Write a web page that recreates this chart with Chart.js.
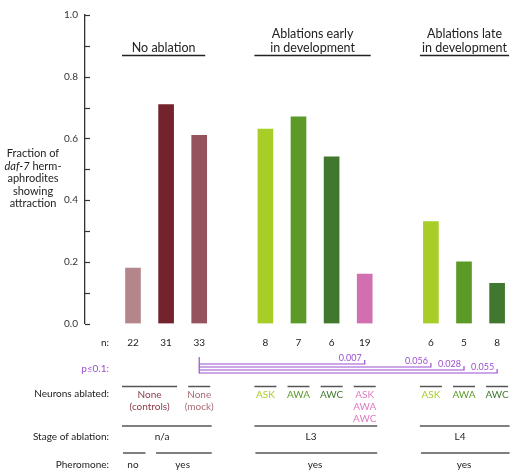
<!DOCTYPE html>
<html>
<head>
<meta charset="utf-8">
<script src="https://cdn.jsdelivr.net/npm/chart.js@4/dist/chart.umd.min.js"></script>
<style>
  body { margin: 0; background: #fff; }
</style>
</head>
<body>
<canvas id="ablationChart" width="512" height="470"></canvas>
<script>
// Data
const groupTitles = [["No ablation"], ["Ablations early", "in development"], ["Ablations late", "in development"]];
const barGroup = [0, 0, 0, 1, 1, 1, 1, 2, 2, 2];
const attraction = [0.18, 0.71, 0.61, 0.63, 0.67, 0.54, 0.16, 0.33, 0.2, 0.13];
const nWorms = [22, 31, 33, 8, 7, 6, 19, 6, 5, 8];

// p values: bar 2 (mock) compared against these bars
const pRefBar = 2;
const pBars = [6, 7, 8, 9];
const pLabels = ["0.007", "0.056", "0.028", "0.055"];

// table rows: [first bar, last bar, text lines]
const neuronRows = [
  [0, 1, ["None", "(controls)"]],
  [2, 2, ["None", "(mock)"]],
  [3, 3, ["ASK"]],
  [4, 4, ["AWA"]],
  [5, 5, ["AWC"]],
  [6, 6, ["ASK", "AWA", "AWC"]],
  [7, 7, ["ASK"]],
  [8, 8, ["AWA"]],
  [9, 9, ["AWC"]],
];
const stageRows = [[0, 2, "n/a"], [3, 6, "L3"], [7, 9, "L4"]];
const pheromoneRows = [[0, 0, "no"], [1, 2, "yes"], [3, 6, "yes"], [7, 9, "yes"]];

// Styles
const barColors = ["#b4868b", "#74232d", "#93545d", "#a8cd27", "#5b9a27", "#40782f", "#d16fb0", "#a8cd27", "#5b9a27", "#40782f"];
const neuronColors = ["#8c3a48", "#a86a72", "#a8cd27", "#5b9a27", "#40782f", "#e07ac0", "#a8cd27", "#5b9a27", "#40782f"];
const purple = "#9b4fd0";
const FONT = "Lato, 'Open Sans', sans-serif";

// one empty slot between groups
const slotOf = barGroup.map((g, i) => i + g);

const tablePlugin = {
  id: "tablePlugin",
  afterDraw(chart) {
    const ctx = chart.ctx;
    const xs = chart.scales.x;
    const ys = chart.scales.y;
    const cx = (i) => xs.getPixelForValue(slotOf[i]);

    ctx.save();
    // y ticks on the right side of the axis
    ctx.strokeStyle = "#333";
    ctx.lineWidth = 1.2;
    for (let v = 0; v <= 10; v++) {
      const y = Math.round(ys.getPixelForValue(v / 10)) + 0.5;
      ctx.beginPath();
      ctx.moveTo(ys.right, y);
      ctx.lineTo(ys.right + 5, y);
      ctx.stroke();
    }

    // y axis title
    ctx.fillStyle = "#222";
    ctx.textAlign = "center";
    ctx.textBaseline = "middle";
    ctx.font = "11px " + FONT;
    ctx.fillText("Fraction of", 33, 153);
    ctx.font = "italic 11px " + FONT;
    const w1 = ctx.measureText("daf-7").width;
    ctx.font = "11px " + FONT;
    const w2 = ctx.measureText(" herm-").width;
    const sx = 33 - (w1 + w2) / 2;
    ctx.textAlign = "left";
    ctx.font = "italic 11px " + FONT;
    ctx.fillText("daf-7", sx, 166);
    ctx.font = "11px " + FONT;
    ctx.fillText(" herm-", sx + w1, 166);
    ctx.textAlign = "center";
    ctx.fillText("aphrodites", 33, 178.5);
    ctx.fillText("showing", 33, 191);
    ctx.fillText("attraction", 33, 203);

    // group titles
    ctx.font = "12.5px " + FONT;
    ctx.strokeStyle = "#222";
    ctx.lineWidth = 1.3;
    groupTitles.forEach((lines, g) => {
      const idx = barGroup.map((b, i) => (b === g ? i : -1)).filter((i) => i >= 0);
      const x0 = cx(idx[0]) - 11;
      const x1 = cx(idx[idx.length - 1]) + (g === 2 ? 12 : 6);
      const mid = (x0 + x1) / 2;
      lines.forEach((t, k) => {
        ctx.fillText(t, mid, 48 - (lines.length - 1 - k) * 14);
      });
      ctx.beginPath();
      ctx.moveTo(x0, 55.5);
      ctx.lineTo(x1, 55.5);
      ctx.stroke();
    });

    // row labels
    ctx.font = "10px " + FONT;
    ctx.textAlign = "right";
    ctx.fillStyle = "#222";
    ctx.fillText("n:", 109, 343);
    ctx.fillText("Neurons ablated:", 109, 394);
    ctx.fillText("Stage of ablation:", 109, 437);
    ctx.fillText("Pheromone:", 109, 465);
    ctx.fillStyle = purple;
    ctx.fillText("p\u22640.1:", 109, 369);

    // n row
    ctx.fillStyle = "#222";
    ctx.textAlign = "center";
    nWorms.forEach((n, i) => ctx.fillText(String(n), cx(i), 343));

    // p brackets
    ctx.strokeStyle = purple;
    ctx.fillStyle = purple;
    ctx.lineWidth = 1.2;
    const xr = cx(pRefBar);
    ctx.beginPath();
    ctx.moveTo(xr, 357);
    ctx.lineTo(xr, 373.5);
    ctx.stroke();
    ctx.font = "9px " + FONT;
    ctx.textAlign = "right";
    pBars.forEach((b, k) => {
      const y = 364 + k * 3;
      const xe = cx(b);
      ctx.beginPath();
      ctx.moveTo(xr, y);
      ctx.lineTo(xe, y);
      ctx.lineTo(xe, y - 4);
      ctx.stroke();
      ctx.fillText(pLabels[k], xe - 3, y - 6);
    });

    // span rows
    const spanLine = (a, b, y, padL, padR) => {
      ctx.strokeStyle = "#555";
      ctx.lineWidth = 1.5;
      ctx.beginPath();
      ctx.moveTo(cx(a) - padL, y);
      ctx.lineTo(cx(b) + padR, y);
      ctx.stroke();
    };
    ctx.font = "10px " + FONT;
    ctx.textAlign = "center";
    neuronRows.forEach(([a, b, lines], k) => {
      spanLine(a, b, 386.5, 11, 11);
      ctx.fillStyle = neuronColors[k];
      const mid = (cx(a) + cx(b)) / 2;
      lines.forEach((t, j) => ctx.fillText(t, mid, 394.5 + j * 12.3));
    });
    ctx.fillStyle = "#222";
    stageRows.forEach(([a, b, t]) => {
      spanLine(a, b, 426, 11, 12.5);
      ctx.fillText(t, (cx(a) + cx(b)) / 2 - 4, 437);
    });
    pheromoneRows.forEach(([a, b, t]) => {
      spanLine(a, b, 453, 10, 12.5);
      ctx.fillText(t, (cx(a) + cx(b)) / 2, 465);
    });
    ctx.restore();
  },
};

// Create chart
const ctx = document.getElementById("ablationChart").getContext("2d");
new Chart(ctx, {
  type: "bar",
  data: {
    datasets: [
      {
        data: attraction.map((v, i) => ({ x: slotOf[i], y: v })),
        backgroundColor: barColors,
        barThickness: 15,
      },
    ],
  },
  options: {
    responsive: false,
    animation: false,
    layout: { padding: { top: 15, bottom: 146.5, left: 0, right: 0 } },
    plugins: { legend: { display: false }, tooltip: { enabled: false } },
    scales: {
      x: {
        type: "linear",
        display: false,
        offset: false,
        min: -1.45,
        max: 11.45,
      },
      y: {
        min: 0,
        max: 1,
        afterFit: (s) => { s.width = 85; },
        grid: { display: false, drawTicks: false },
        border: { display: true, color: "#333", width: 1.3 },
        ticks: {
          stepSize: 0.1,
          padding: 7,
          color: "#333",
          font: { family: FONT, size: 10 },
          callback: (v) => (Math.round(v * 10) % 2 === 0 ? v.toFixed(1) : ""),
        },
      },
    },
  },
  plugins: [tablePlugin],
});
</script>
</body>
</html>
